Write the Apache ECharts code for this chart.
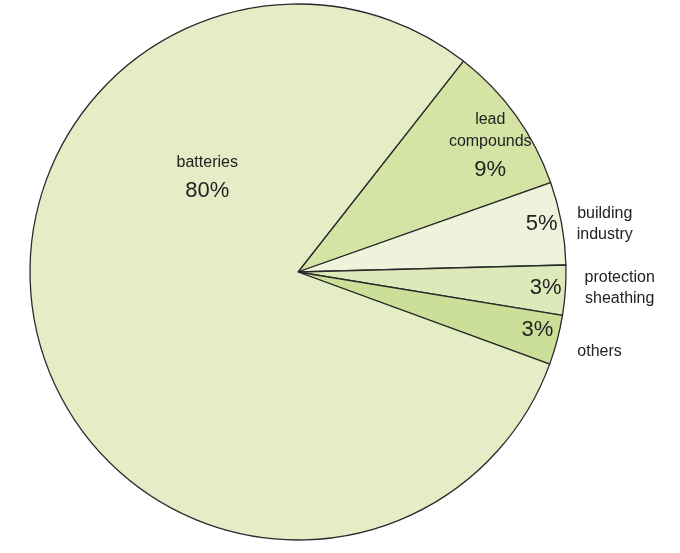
<!DOCTYPE html>
<html><head><meta charset="utf-8">
<script src="https://cdn.jsdelivr.net/npm/echarts@6/dist/echarts.min.js"></script>
<style>html,body{margin:0;background:#fff}#c{width:680px;height:553px}</style>
</head><body><div id="c"></div>
<script>
const categories = ['lead\ncompounds', 'building\nindustry', 'protection\nsheathing', 'others', 'batteries'];
const values = [9, 5, 3, 3, 80];
const percentLabels = ['9%', '5%', '3%', '3%', '80%'];
const colors = ['#d5e4a5', '#eef4dc', '#dde9b9', '#cbdf98', '#e4edc6'];
const insideOffsets = [[81,-44],[109,-23],[111,7],[107,23],[41,-130]];
const outsideOffsets = [null,[172,-23],[185,7],[169,45],null];

const chart = echarts.init(document.getElementById('c'));
const font = 'Liberation Sans, Arial, sans-serif';
chart.setOption({
  animation: false,
  series: [{
    type: 'pie', center: [298, 272], radius: [0, 268], startAngle: 51.9,
    clockwise: true, silent: true,
    itemStyle: { borderColor: '#2a2a2a', borderWidth: 1.3 },
    data: categories.map((c, i) => ({
      name: c, value: values[i], itemStyle: { color: colors[i] },
      label: {
        formatter: (i === 0 || i === 4)
          ? '{n|' + (i === 0 ? 'lead\ncompounds' : 'batteries') + '}\n{p|' + percentLabels[i] + '}'
          : '{p|' + percentLabels[i] + '}'
      }
    })),
    label: {
      show: true, position: 'inside', fontFamily: font, color: '#222',
      rich: {
        n: { fontSize: 16, fontFamily: font, color: '#222', lineHeight: 22 },
        p: { fontSize: 22, fontFamily: font, color: '#222', lineHeight: 34 }
      }
    },
    labelLine: { show: false },
    labelLayout: p => ({ dx: insideOffsets[p.dataIndex][0], dy: insideOffsets[p.dataIndex][1] })
  }, {
    type: 'pie', center: [298, 272], radius: [0, 268], startAngle: 51.9,
    clockwise: true, silent: true,
    itemStyle: { color: 'rgba(0,0,0,0)', borderWidth: 0 },
    data: categories.map((c, i) => ({
      name: c, value: values[i],
      label: { show: outsideOffsets[i] !== null }
    })),
    label: {
      position: 'inside', fontFamily: font, fontSize: 16, color: '#222',
      lineHeight: 21, formatter: '{b}'
    },
    labelLine: { show: false },
    labelLayout: p => outsideOffsets[p.dataIndex] ? ({ dx: outsideOffsets[p.dataIndex][0], dy: outsideOffsets[p.dataIndex][1] }) : {}
  }]
});
</script></body></html>
